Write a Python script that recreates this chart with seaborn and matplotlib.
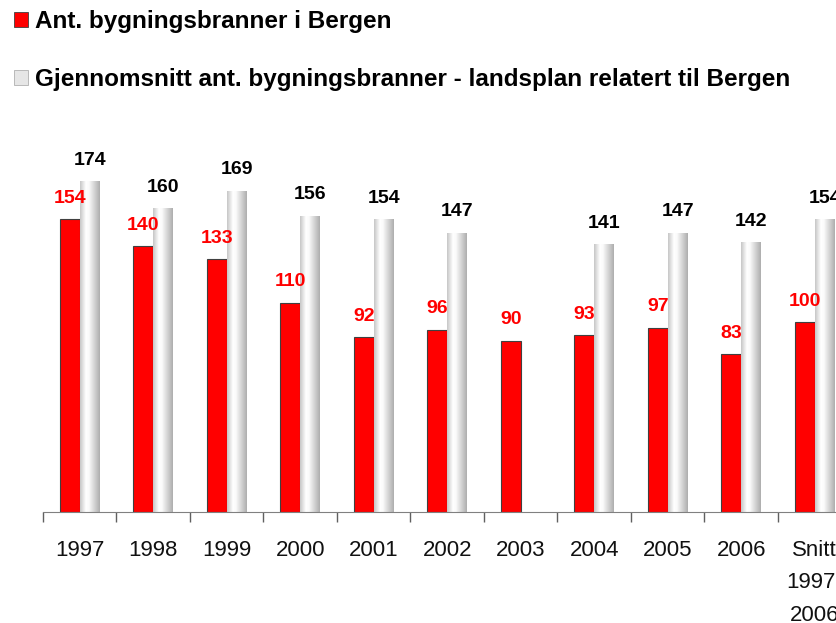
import numpy as np
import pandas as pd
import seaborn as sns
import matplotlib.pyplot as plt
from matplotlib.patches import Patch

years = ['1997', '1998', '1999', '2000', '2001', '2002', '2003',
         '2004', '2005', '2006', 'Snitt\n1997-\n2006']
bergen = [154, 140, 133, 110, 92, 96, 90, 93, 97, 83, 100]
landsplan = [174, 160, 169, 156, 154, 147, np.nan, 141, 147, 142, 154]
series = ['Ant. bygningsbranner i Bergen',
          'Gjennomsnitt ant. bygningsbranner - landsplan relatert til Bergen']

df = pd.DataFrame({'aar': years * 2,
                   'antall': bergen + landsplan,
                   'serie': [series[0]] * len(years) + [series[1]] * len(years)})

sns.set_style('white')
plt.rcParams['font.family'] = ['Liberation Sans', 'DejaVu Sans']

fig = plt.figure(figsize=(8.37, 6.23), dpi=100)
ax = fig.add_axes([43 / 837, 111 / 623, 808.5 / 837, 380 / 623])

sns.barplot(data=df, x='aar', y='antall', hue='serie', order=years,
            hue_order=series, palette=['#ff0000', '#d9d9d9'],
            width=0.54, gap=0, dodge=True, saturation=1, ax=ax, legend=False)

ax.set_xlim(-0.5, len(years) - 0.5)
ax.set_ylim(0, 200)

red_bars = [p for p in ax.containers[0] if p is not None]
gray_bars = [p for p in ax.containers[1] if p is not None]
for p in red_bars:
    p.set_edgecolor('#404040')
    p.set_linewidth(0.8)

# sylinder-effekt paa de graa soylene
grad = np.interp(np.linspace(0, 1, 64), [0, 0.3, 0.45, 1],
                 [0.78, 1.0, 0.98, 0.68])
img = np.tile(grad, (2, 1))
for p in gray_bars:
    h = p.get_height()
    if np.isnan(h) or h == 0:
        continue
    x0, w = p.get_x(), p.get_width()
    p.set_facecolor('none')
    p.set_edgecolor('none')
    im = ax.imshow(img, cmap='gray', vmin=0, vmax=1, aspect='auto',
                   extent=[x0, x0 + w, 0, h], zorder=p.get_zorder())
    im.set_clip_path(p)


def label_bars(bars, color):
    for p in bars:
        h = p.get_height()
        if np.isnan(h) or h == 0:
            continue
        ax.annotate(f'{h:.0f}', (p.get_x() + p.get_width() / 2, h),
                    xytext=(0, 9), textcoords='offset points', ha='center',
                    va='bottom', color=color, fontsize=14, fontweight='bold')


label_bars(red_bars, '#ff0000')
label_bars(gray_bars, 'black')

sns.despine(ax=ax, left=True)
ax.spines['bottom'].set_color('#808080')
ax.set_yticks([])
ax.set_xlabel('')
ax.set_ylabel('')
ax.set_xticks(np.arange(-0.5, len(years)), minor=True)
ax.tick_params(axis='x', which='major', length=0, pad=20, labelsize=16,
               labelcolor='#111111')
ax.tick_params(axis='x', which='minor', length=7, color='#606060', width=1,
               direction='out', bottom=True)
for t in ax.get_xticklabels():
    t.set_linespacing(1.72)
    t.set_verticalalignment('top')

handles = [Patch(facecolor='#ff0000', edgecolor='#404040', linewidth=0.6),
           Patch(facecolor='#e6e6e6', edgecolor='#b0b0b0', linewidth=0.6)]
fig.legend(handles, series, loc='upper left', bbox_to_anchor=(14 / 837, 1 - 10 / 623),
           frameon=False, borderpad=0, borderaxespad=0, labelcolor='black',
           handlelength=0.58, handleheight=0.58, handletextpad=0.27,
           labelspacing=1.44, prop={'weight': 'bold', 'size': 17.5})

fig.savefig('out.png', dpi=100)
